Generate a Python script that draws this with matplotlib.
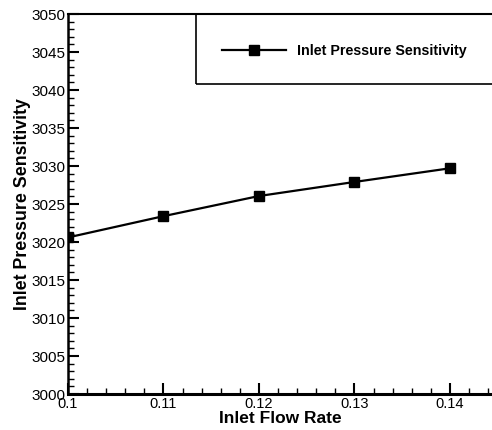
import matplotlib
matplotlib.use("Agg")
import matplotlib.pyplot as plt
from matplotlib.patches import Rectangle
from matplotlib.ticker import MultipleLocator, FixedLocator

flow_rate = [0.10, 0.11, 0.12, 0.13, 0.14]
sensitivity = [3020.6, 3023.4, 3026.05, 3027.9, 3029.7]
x_ticks = [0.10, 0.11, 0.12, 0.13, 0.14]
x_tick_labels = ["0.1", "0.11", "0.12", "0.13", "0.14"]
y_ticks = [3000, 3005, 3010, 3015, 3020, 3025, 3030, 3035, 3040, 3045, 3050]
series_name = "Inlet Pressure Sensitivity"

plt.rcParams["font.family"] = ["Liberation Sans", "DejaVu Sans"]

fig = plt.figure(figsize=(4.92, 4.30), dpi=100)
ax = fig.add_axes([68 / 492, 36 / 430, 1 - 68 / 492, 380 / 430])

line, = ax.plot(flow_rate, sensitivity, color="black", lw=1.6,
                marker="s", markersize=7, markerfacecolor="black",
                markeredgecolor="black", label=series_name)

ax.set_xlim(0.1, 0.1444)
ax.set_ylim(3000, 3050)
ax.xaxis.set_major_locator(FixedLocator(x_ticks))
ax.set_xticklabels(x_tick_labels)
ax.xaxis.set_minor_locator(MultipleLocator(0.002))
ax.yaxis.set_major_locator(FixedLocator(y_ticks))
ax.yaxis.set_minor_locator(MultipleLocator(1))

ax.tick_params(which="both", direction="in", top=False, right=False,
               colors="black")
ax.tick_params(axis="y", labelsize=11)
ax.tick_params(axis="x", labelsize=10.5)
ax.tick_params(which="major", length=8, width=1.5, pad=2)
ax.tick_params(which="minor", length=4, width=1.0)

ax.spines["right"].set_visible(False)
ax.spines["bottom"].set_linewidth(2.2)
ax.spines["left"].set_linewidth(1.8)
ax.spines["top"].set_linewidth(1.5)

ax.set_xlabel("Inlet Flow Rate", fontsize=12.5, fontweight="bold", labelpad=0)
ax.set_ylabel("Inlet Pressure Sensitivity", fontsize=12.8, fontweight="bold", labelpad=0)

# legend box hanging from the top edge
box = Rectangle((196, 430 - 84), 320, 70, transform=None, fill=False,
                edgecolor="black", lw=1.2, clip_on=False)
fig.patches.append(box)
ax.legend(handles=[line], loc="center left",
          bbox_to_anchor=(222 / 492, 1 - 51 / 430), bbox_transform=fig.transFigure,
          frameon=False, handlelength=4.5, handletextpad=0.75,
          prop={"weight": "bold", "size": 10.3}, borderaxespad=0, borderpad=0)

fig.savefig("out.png", dpi=100)
